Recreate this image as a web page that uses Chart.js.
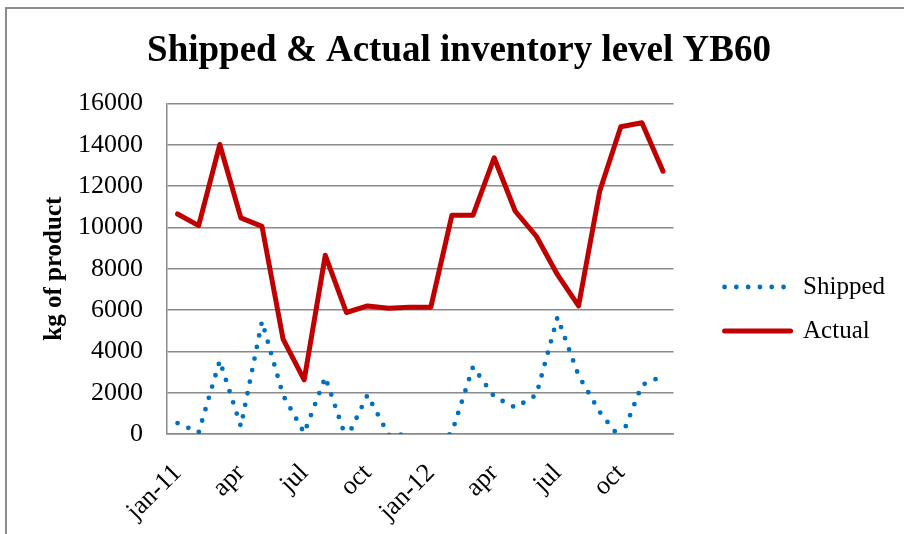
<!DOCTYPE html>
<html>
<head>
<meta charset="utf-8">
<script src="https://cdn.jsdelivr.net/npm/chart.js@4.4.0/dist/chart.umd.min.js"></script>
<style>
  html, body { margin: 0; padding: 0; background: #fff; overflow: hidden; }
  #wrap { position: relative; width: 904px; height: 534px; }
  #frame { position: absolute; left: 5px; top: 7px; width: 1000px; height: 700px;
           border-top: 2px solid #8c8c8c; border-left: 2px solid #8c8c8c; }
  canvas { position: absolute; left: 0; top: 0; }
</style>
</head>
<body>
<div id="wrap">
  <div id="frame"></div>
  <canvas id="invChart" width="904" height="534"></canvas>
</div>
<script>
const months = ['jan-11', 'feb', 'mar', 'apr', 'may', 'jun', 'jul', 'aug', 'sep', 'oct', 'nov', 'dec',
                'jan-12', 'feb', 'mar', 'apr', 'may', 'jun', 'jul', 'aug', 'sep', 'oct', 'nov', 'dec'];
const shipped = [530, 80, 3550, 370, 5450, 1875, 50, 2750, -250, 1890, -40, -30,
                 -760, 80, 3250, 1810, 1280, 1890, 5650, 2830, 1070, -240, 2370, 2810];
const actual = [10650, 10085, 14010, 10460, 10050, 4590, 2620, 8650, 5880, 6200, 6090, 6140,
                6140, 10590, 10590, 13370, 10780, 9570, 7710, 6200, 11750, 14870, 15060, 12720];
const yTicks = [0, 2000, 4000, 6000, 8000, 10000, 12000, 14000, 16000];

const serif = '"Liberation Serif", "Times New Roman", serif';
const gridGrey = '#8a8a8a';

// nudges the legend and title to where the original sits
const placeBoxes = {
    id: 'placeBoxes',
    afterLayout(chart) {
        const lg = chart.legend;
        lg.left += 32; lg.right += 32;
        lg.top += 42; lg.bottom += 42;
        const t = chart.titleBlock;
        if (t) { t.left += 15; t.right += 15; }
    }
};

new Chart(document.getElementById('invChart').getContext('2d'), {
    type: 'line',
    data: {
        labels: months,
        datasets: [{
            label: 'Shipped',
            data: shipped,
            borderColor: '#0070c0',
            backgroundColor: '#0070c0',
            borderWidth: 4.8,
            borderDash: [0, 11.8],
            borderCapStyle: 'round',
            borderJoinStyle: 'round',
            pointRadius: 0,
            tension: 0,
        }, {
            label: 'Actual',
            data: actual,
            borderColor: '#c00000',
            backgroundColor: '#c00000',
            borderWidth: 5,
            borderCapStyle: 'round',
            borderJoinStyle: 'round',
            pointRadius: 0,
            tension: 0,
        }]
    },
    options: {
        responsive: false,
        animation: false,
        layout: { padding: { left: 25, right: 41, top: 0, bottom: 0 } },
        plugins: {
            title: {
                display: true,
                text: 'Shipped & Actual inventory level YB60',
                color: '#000',
                font: { family: serif, size: 37, weight: 'bold' },
                padding: { top: 29, bottom: 30 }
            },
            legend: {
                position: 'right',
                labels: {
                    color: '#000',
                    font: { family: serif, size: 25 },
                    usePointStyle: true,
                    pointStyle: 'line',
                    pointStyleWidth: 66,
                    padding: 19,
                    generateLabels: chart => chart.data.datasets.map((ds, i) => ({
                        text: ds.label,
                        fillStyle: ds.borderColor,
                        strokeStyle: ds.borderColor,
                        lineWidth: ds.borderWidth,
                        lineDash: ds.borderDash || [],
                        lineCap: ds.borderCapStyle,
                        pointStyle: 'line',
                        fontColor: '#000',
                        hidden: false,
                        datasetIndex: i
                    }))
                }
            },
            tooltip: { enabled: false }
        },
        scales: {
            x: {
                offset: true,
                grid: { display: false, drawTicks: false },
                border: { color: gridGrey, width: 1.5 },
                ticks: {
                    autoSkip: false,
                    maxRotation: 45, minRotation: 45,
                    padding: 24,
                    color: '#000',
                    font: { family: serif, size: 26 },
                    callback: function (v, i) { return i % 3 === 0 ? this.getLabelForValue(v) : ''; }
                },
                afterFit: s => { s.height = 100; }
            },
            y: {
                min: 0, max: 16000,
                afterBuildTicks: s => { s.ticks = yTicks.map(v => ({ value: v })); },
                grid: { color: gridGrey, lineWidth: 1.5, drawTicks: false },
                border: { color: gridGrey, width: 1.5 },
                ticks: {
                    padding: 24,
                    color: '#000',
                    font: { family: serif, size: 26 },
                    callback: v => String(v)
                },
                title: {
                    display: true,
                    text: 'kg of product',
                    color: '#000',
                    font: { family: serif, size: 25, weight: 'bold' },
                    padding: { top: 15, bottom: 0 }
                },
                afterFit: s => { s.width = 142; }
            }
        }
    },
    plugins: [placeBoxes]
});
</script>
</body>
</html>
